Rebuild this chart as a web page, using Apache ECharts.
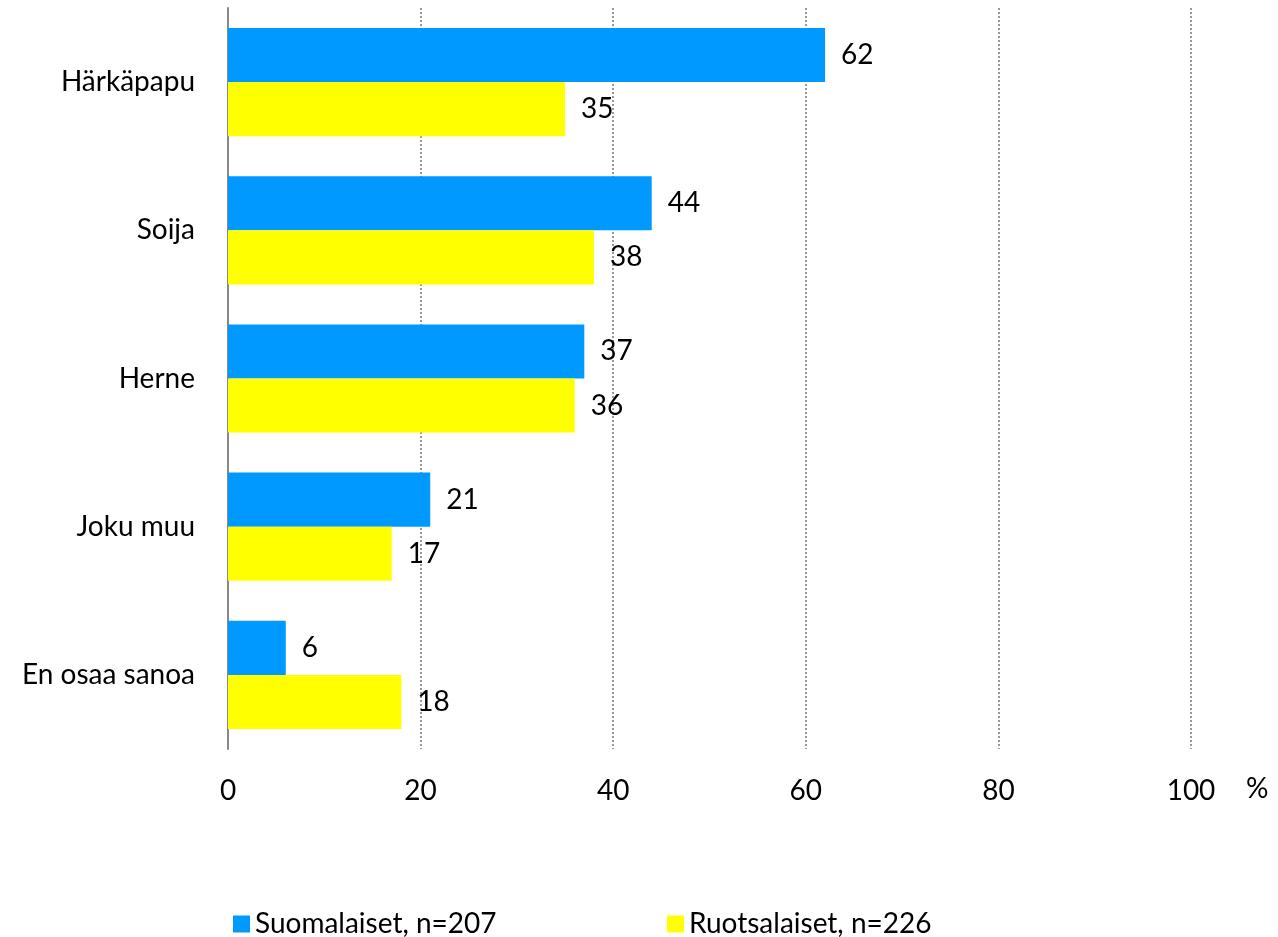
<!DOCTYPE html>
<html><head><meta charset="utf-8">
<script src="https://cdn.jsdelivr.net/npm/echarts@6/dist/echarts.min.js"></script>
<style>html,body{margin:0;padding:0;background:#fff}#c{width:1278px;height:937px}</style>
</head><body><div id="c"></div>
<script>
const categories = ["Härkäpapu", "Soija", "Herne", "Joku muu", "En osaa sanoa"];
const suomalaiset = [62, 44, 37, 21, 6];
const ruotsalaiset = [35, 38, 36, 17, 18];
const seriesNames = ["Suomalaiset, n=207", "Ruotsalaiset, n=226"];
const xTicks = [0, 20, 40, 60, 80, 100];
const unitLabel = "%";

const FONT = "Lato";
const FS = 28;
const chart = echarts.init(document.getElementById('c'));
const lbl = {show: true, position: 'right', distance: 16, color: '#000', fontSize: FS, fontFamily: FONT};
chart.setOption({
  animation: false,
  textStyle: {fontFamily: FONT},
  grid: {left: 228, right: 87, top: 8, bottom: 188, containLabel: false},
  legend: [
    {data: [seriesNames[0]], left: 228, top: 905, itemWidth: 17, itemHeight: 17, itemGap: 0,
     icon: 'rect', textStyle: {fontSize: FS, color: '#000', fontFamily: FONT}},
    {data: [seriesNames[1]], left: 662, top: 905, itemWidth: 17, itemHeight: 17, itemGap: 0,
     icon: 'rect', textStyle: {fontSize: FS, color: '#000', fontFamily: FONT}}
  ],
  xAxis: {
    type: 'value', min: 0, max: 100, interval: 20,
    axisLine: {show: false}, axisTick: {show: false},
    axisLabel: {fontSize: FS, color: '#000', margin: 28, fontFamily: FONT,
      formatter: v => xTicks.includes(v) ? String(v) : ''},
    splitLine: {show: true, lineStyle: {color: '#999', width: 2, type: [2, 2]}}
  },
  yAxis: {
    type: 'category', data: categories, inverse: true,
    axisLine: {show: true, lineStyle: {color: '#888', width: 2}},
    axisTick: {show: false},
    axisLabel: {fontSize: FS, color: '#000', margin: 33, fontFamily: FONT}
  },
  graphic: [{type: 'text', left: 1246, top: 775, style: {text: unitLabel, fontSize: FS, fill: '#000', fontFamily: FONT}}],
  series: [
    {name: seriesNames[0], type: 'bar', data: suomalaiset, barGap: '0%', barCategoryGap: '27%',
     itemStyle: {color: '#0099FF'}, label: lbl, z: 2},
    {name: seriesNames[1], type: 'bar', data: ruotsalaiset, barGap: '0%', barCategoryGap: '27%',
     itemStyle: {color: '#FFFF00'}, label: lbl, z: 2}
  ]
});
</script></body></html>
